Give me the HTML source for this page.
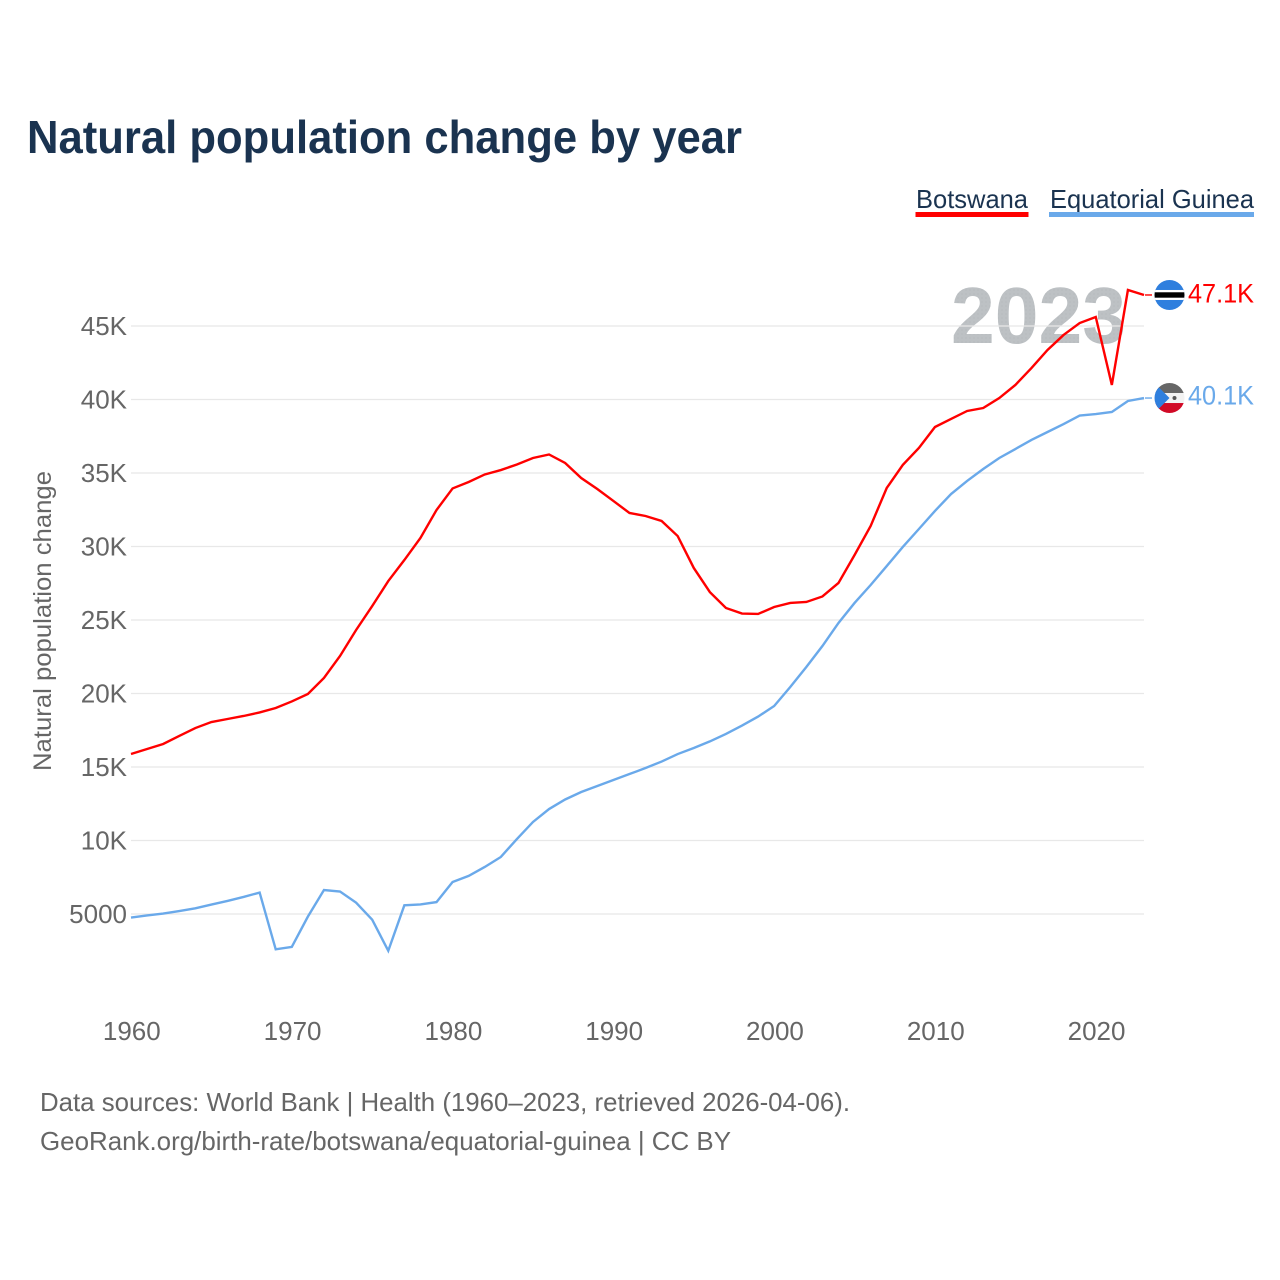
<!DOCTYPE html>
<html lang="en">
<head>
<meta charset="utf-8">
<title>Natural population change by year</title>
<style>
html,body{margin:0;padding:0;background:#fff;}
svg{display:block;font-family:"Liberation Sans",sans-serif;}
</style>
</head>
<body>
<svg id="chart" xmlns="http://www.w3.org/2000/svg" width="1280" height="1280" viewBox="0 0 1280 1280">
  <defs>
    <pattern id="dots" width="4" height="4" patternUnits="userSpaceOnUse">
      <rect width="4" height="4" fill="#bdc1c4"/>
      <circle cx="2" cy="2" r="0.6" fill="#b3b7bb"/>
    </pattern>
    <clipPath id="flag-clip-a"><circle cx="0" cy="0" r="15"/></clipPath>
  </defs>
  <rect width="1280" height="1280" fill="#ffffff"/>
  <text x="27" y="153" font-size="46" font-weight="700" fill="#1a3350" textLength="715" lengthAdjust="spacingAndGlyphs">Natural population change by year</text>

  <g>
    <text x="916" y="208" font-size="26" fill="#1a3350" textLength="112" lengthAdjust="spacingAndGlyphs">Botswana</text>
    <rect x="915.5" y="212" width="113" height="5" fill="#ff0000"/>
    <text x="1050" y="208" font-size="26" fill="#1a3350" textLength="204" lengthAdjust="spacingAndGlyphs">Equatorial Guinea</text>
    <rect x="1049" y="212" width="205" height="5" fill="#6aa9ea"/>
  </g>

  <text x="951" y="343" font-size="80" font-weight="700" fill="url(#dots)" textLength="175" lengthAdjust="spacingAndGlyphs">2023</text>

  <g id="grid"></g>
  <g id="y-ticks"></g>
  <g id="x-ticks"></g>
  <text transform="translate(51,621) rotate(-90)" text-anchor="middle" font-size="25" fill="#666666" textLength="300" lengthAdjust="spacingAndGlyphs">Natural population change</text>

  <g id="series"></g>
  <g id="ends"></g>

  <text x="40" y="1111" font-size="26" fill="#666666" textLength="810" lengthAdjust="spacingAndGlyphs">Data sources: World Bank | Health (1960–2023, retrieved 2026-04-06).</text>
  <text x="40" y="1150" font-size="26" fill="#666666" textLength="691" lengthAdjust="spacingAndGlyphs">GeoRank.org/birth-rate/botswana/equatorial-guinea | CC BY</text>
</svg>
<script>
const years = [1960,1961,1962,1963,1964,1965,1966,1967,1968,1969,1970,1971,1972,1973,1974,1975,1976,1977,1978,1979,1980,1981,1982,1983,1984,1985,1986,1987,1988,1989,1990,1991,1992,1993,1994,1995,1996,1997,1998,1999,2000,2001,2002,2003,2004,2005,2006,2007,2008,2009,2010,2011,2012,2013,2014,2015,2016,2017,2018,2019,2020,2021,2022,2023];
const botswana = [15885,16225,16565,17110,17650,18060,18265,18470,18710,19015,19460,19970,21055,22550,24320,25950,27650,29080,30580,32480,33950,34390,34900,35200,35580,36020,36260,35680,34660,33910,33100,32280,32075,31735,30710,28540,26900,25820,25440,25410,25885,26160,26225,26600,27520,29420,31400,33980,35550,36700,38130,38675,39220,39420,40100,40990,42140,43370,44390,45200,45610,40990,47450,47110];
const equatorialGuinea = [4760,4900,5030,5200,5390,5640,5890,6160,6460,2600,2760,4820,6630,6530,5770,4610,2500,5590,5650,5810,7180,7590,8200,8880,10100,11260,12140,12790,13300,13710,14120,14520,14930,15370,15880,16290,16740,17250,17820,18430,19150,20440,21800,23230,24800,26160,27380,28670,29970,31190,32420,33570,34460,35270,36020,36630,37250,37790,38330,38910,39010,39150,39900,40100];
const yTickValues = [5000,10000,15000,20000,25000,30000,35000,40000,45000];
const yTickLabels = ["5000","10K","15K","20K","25K","30K","35K","40K","45K"];
const xTickValues = [1960,1970,1980,1990,2000,2010,2020];
const endLabels = ["47.1K","40.1K"];

const NS = "http://www.w3.org/2000/svg";
const xScale = function (yr) { return 131 + (yr - 1960) * (1144 - 131) / 63; };
const yScale = function (v) { return 914 - (v - 5000) * 0.0147; };

function mk(tag, parent, attrs, text) {
  const el = document.createElementNS(NS, tag);
  for (const k in attrs) el.setAttribute(k, attrs[k]);
  if (text !== undefined) el.textContent = text;
  parent.appendChild(el);
  return el;
}

const gridG = document.getElementById("grid");
const yG = document.getElementById("y-ticks");
yTickValues.forEach(function (v, i) {
  const line = mk("line", gridG, {x1: 131, x2: 1144, y1: yScale(v), y2: yScale(v), stroke: "#e8e8e8", "stroke-width": 1.2});
  
  
  const label = mk("text", yG, {x: 127, y: yScale(v) + 9, "text-anchor": "end", "font-size": 26, fill: "#666666"}, yTickLabels[i]);
  
  
});

const xG = document.getElementById("x-ticks");
xTickValues.forEach(function (yr) {
  const label = mk("text", xG, {x: xScale(yr) + 0.8, y: 1040, "text-anchor": "middle", "font-size": 26, fill: "#666666"}, String(yr));
  
  
});

function pathFor(values) {
  return values.map(function (v, i) {
    return (i ? "L" : "M") + xScale(years[i]).toFixed(2) + " " + yScale(v).toFixed(2);
  }).join(" ");
}

const seriesG = document.getElementById("series");
const blueLine = mk("path", seriesG, {d: pathFor(equatorialGuinea), fill: "none", stroke: "#6aa9ea", "stroke-width": 2.4, "stroke-linejoin": "miter"});


const redLine = mk("path", seriesG, {d: pathFor(botswana), fill: "none", stroke: "#ff0000", "stroke-width": 2.4, "stroke-linejoin": "miter"});



const endsG = document.getElementById("ends");
const lastX = xScale(years[years.length - 1]);

/* Botswana end marker */
const yB = yScale(botswana[botswana.length - 1]);
const connB = mk("line", endsG, {x1: lastX + 1, x2: 1152, y1: yB, y2: yB, stroke: "#ff0000", "stroke-width": 1.4});


const flagB = mk("g", endsG, {transform: "translate(1169.5," + yB + ")", "clip-path": "url(#flag-clip-a)"});


mk("rect", flagB, {x: -15, y: -15, width: 30, height: 30, fill: "#2f7fde"});
mk("rect", flagB, {x: -15, y: -5, width: 30, height: 10, fill: "#ffffff"});
mk("rect", flagB, {x: -15, y: -2.7, width: 30, height: 5.4, fill: "#000000"});
const labelB = mk("text", endsG, {x: 1254, y: yB + 7.5, "text-anchor": "end", "font-size": 27, fill: "#ff0000", textLength: 66, lengthAdjust: "spacingAndGlyphs"}, endLabels[0]);



/* Equatorial Guinea end marker */
const yE = yScale(equatorialGuinea[equatorialGuinea.length - 1]);
const connE = mk("line", endsG, {x1: lastX + 1, x2: 1152, y1: yE, y2: yE, stroke: "#6aa9ea", "stroke-width": 1.4});


const flagE = mk("g", endsG, {transform: "translate(1169.5," + yE + ")", "clip-path": "url(#flag-clip-a)"});


mk("rect", flagE, {x: -15, y: -15, width: 30, height: 10, fill: "#666666"});
mk("rect", flagE, {x: -15, y: -5, width: 30, height: 10, fill: "#f2f2f2"});
mk("rect", flagE, {x: -15, y: 5, width: 30, height: 10, fill: "#d10a26"});
mk("polygon", flagE, {points: "-15,-15 -15,15 0,0", fill: "#2f7fde"});
mk("circle", flagE, {cx: 5, cy: 0, r: 2, fill: "#555555"});
const labelE = mk("text", endsG, {x: 1254, y: yE + 6.5, "text-anchor": "end", "font-size": 27, fill: "#6aa9ea", textLength: 66, lengthAdjust: "spacingAndGlyphs"}, endLabels[1]);


</script>
</body>
</html>
